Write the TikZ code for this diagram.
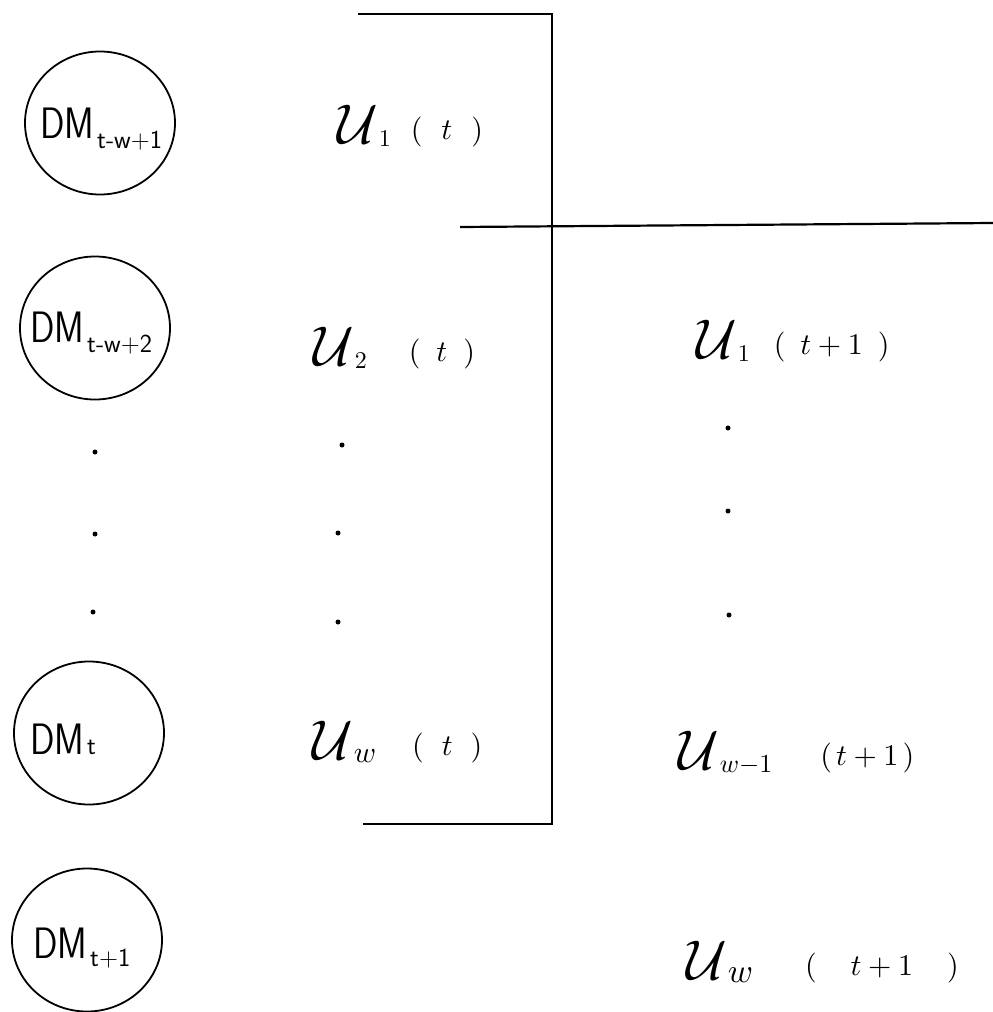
\documentclass[tikz,border=0pt]{standalone}
\usepackage{graphicx}
\usetikzlibrary{shapes.geometric}
\newcommand\dmlab[2]{{\fontsize{44}{44}\selectfont\scalebox{0.82}[1]{DM}}\hspace{3pt}\raisebox{#2}{\fontsize{26}{26}\selectfont #1}}
% #1 subscript, #2 argument, #3 gap, #4 inner pad, #5 subscript scale
\newcommand\ulab[5]{\scalebox{5.6}{$\mathcal{U}$}\hspace{1pt}\raisebox{-3pt}{\scalebox{#5}{#1}}\hspace{#3}\raisebox{4pt}{\scalebox{3}{(}\hspace{#4}\scalebox{3}{#2}\hspace{#4}\scalebox{3}{)}}}
\begin{document}
\begin{tikzpicture}[x=1pt,y=-1pt,
  dmcircle/.style={ellipse,draw,line width=1.8pt,minimum width=150pt,minimum height=143pt,inner sep=0pt},
  dmtext/.style={anchor=base west,inner sep=0pt,font=\sffamily},
  utext/.style={anchor=base west,inner sep=0pt},
  vdot/.style={circle,fill,inner sep=0pt,minimum size=5pt},
  boxline/.style={line width=2.2pt}]
\fill[white] (0,0) rectangle (993,1012);
\useasboundingbox (0,0) rectangle (993,1012);
% circles
\node[dmcircle] (c1) at (100,123) {};
\node[dmcircle] (c2) at (95,328) {};
\node[dmcircle] (c3) at (89,733) {};
\node[dmcircle] (c4) at (87,940) {};
\node[dmtext] (c1t) at (40,138) {\dmlab{t-w+1}{-10pt}};
\node[dmtext] (c2t) at (30,342) {\dmlab{t-w+2}{-10pt}};
\node[dmtext] (c3t) at (30,754) {\dmlab{t}{0pt}};
\node[dmtext] (c4t) at (33,958) {\dmlab{t+1}{-8pt}};
% vertical dots
\node[vdot] (ld1) at (95,452) {};
\node[vdot] (ld2) at (95,534) {};
\node[vdot] (ld3) at (93,612) {};
\node[vdot] (md1) at (342,445) {};
\node[vdot] (md2) at (338,533) {};
\node[vdot] (md3) at (338,622) {};
\node[vdot] (rd1) at (728,428) {};
\node[vdot] (rd2) at (728,511) {};
\node[vdot] (rd3) at (729,615) {};
% labels
\node[utext] (u1t) at (337,143) {\ulab{$1$}{$t$}{20pt}{19pt}{2.4}};
\node[utext] (u2t) at (313,365) {\ulab{$2$}{$t$}{42pt}{16pt}{2.4}};
\node[utext] (uwt) at (312,759) {\ulab{$w$}{$t$}{36pt}{18pt}{3.0}};
\node[utext] (u1n) at (696,358) {\ulab{$1$}{$t+1$}{24pt}{15pt}{2.4}};
\node[utext] (uwm) at (678,769) {\ulab{$w{-}1$}{$t+1$}{48pt}{4pt}{2.6}};
\node[utext] (uwn) at (686,979) {\ulab{$w$}{$t+1$}{52pt}{34pt}{3.4}};
% box lines
\coordinate (b1) at (358,14);
\coordinate (b2) at (552,14);
\coordinate (b3) at (552,824);
\coordinate (b4) at (363,824);
\coordinate (h1) at (460,227);
\coordinate (h2) at (993,223);
\draw[boxline] (b1) -- (b2) -- (b3) -- (b4);
\draw[boxline] (h1) -- (h2);
\end{tikzpicture}
\end{document}
